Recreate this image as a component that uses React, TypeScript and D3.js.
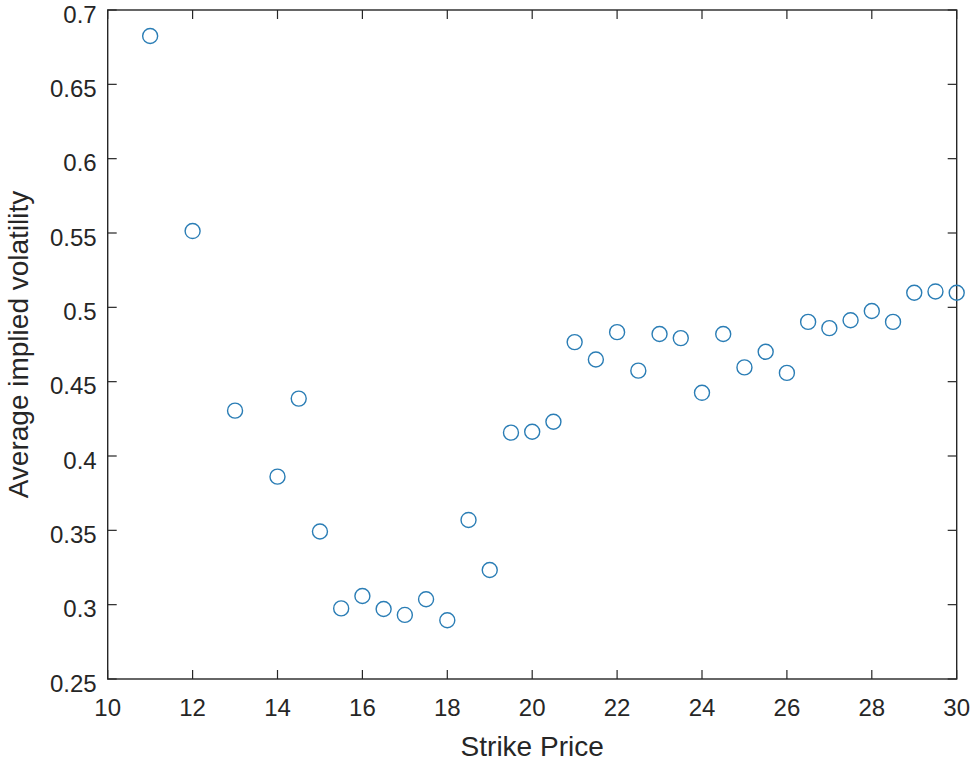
import React, { useEffect, useRef } from 'react';
import * as d3 from 'd3';

const strikes = [11, 12, 13, 14, 14.5, 15, 15.5, 16, 16.5, 17, 17.5, 18, 18.5, 19, 19.5, 20, 20.5, 21, 21.5, 22, 22.5, 23, 23.5, 24, 24.5, 25, 25.5, 26, 26.5, 27, 27.5, 28, 28.5, 29, 29.5, 30];
const volatility = [0.6825, 0.5513, 0.4305, 0.3861, 0.4386, 0.3492, 0.2975, 0.3058, 0.2971, 0.2931, 0.3036, 0.2895, 0.357, 0.3233, 0.4157, 0.4163, 0.423, 0.4766, 0.4649, 0.4833, 0.4574, 0.4821, 0.4793, 0.4425, 0.4821, 0.4596, 0.4701, 0.4559, 0.4902, 0.486, 0.4913, 0.4975, 0.4902, 0.5098, 0.5107, 0.5098];
const xTicks = [10, 12, 14, 16, 18, 20, 22, 24, 26, 28, 30];
const yTicks = [0.25, 0.3, 0.35, 0.4, 0.45, 0.5, 0.55, 0.6, 0.65, 0.7];

const W = 972;
const H = 766;
const margin = { top: 10, right: 15.3, bottom: 87, left: 107.7 };
const ink = '#262626';

const App: React.FC = () => {
  const svgRef = useRef<SVGSVGElement>(null);

  useEffect(() => {
    const svg = d3.select(svgRef.current);
    svg.selectAll('*').remove();

    const iw = W - margin.left - margin.right;
    const ih = H - margin.top - margin.bottom;

    const x = d3.scaleLinear().domain([10, 30]).range([0, iw]);
    const y = d3.scaleLinear().domain([0.25, 0.7]).range([ih, 0]);

    const g = svg.append('g').attr('transform', `translate(${margin.left},${margin.top})`);

    const tickLen = 9;
    const font = '"Liberation Sans", Arial, Helvetica, sans-serif';

    // ticks inward on all four sides
    const tg = g.append('g').attr('stroke', ink).attr('stroke-width', 1.2);
    xTicks.forEach(t => {
      tg.append('line').attr('x1', x(t)).attr('x2', x(t)).attr('y1', ih).attr('y2', ih - tickLen);
      tg.append('line').attr('x1', x(t)).attr('x2', x(t)).attr('y1', 0).attr('y2', tickLen);
    });
    yTicks.forEach(t => {
      tg.append('line').attr('x1', 0).attr('x2', tickLen).attr('y1', y(t)).attr('y2', y(t));
      tg.append('line').attr('x1', iw).attr('x2', iw - tickLen).attr('y1', y(t)).attr('y2', y(t));
    });

    g.append('rect')
      .attr('x', 0).attr('y', 0).attr('width', iw).attr('height', ih)
      .attr('fill', 'none').attr('stroke', ink).attr('stroke-width', 1.4);

    g.selectAll('.xt')
      .data(xTicks)
      .enter().append('text')
      .attr('x', d => x(d))
      .attr('y', ih + 37)
      .attr('text-anchor', 'middle')
      .attr('font-family', font)
      .attr('font-size', 24)
      .attr('fill', ink)
      .text(d => String(d));

    g.selectAll('.yt')
      .data(yTicks)
      .enter().append('text')
      .attr('x', -11)
      .attr('y', d => y(d) + 12.5)
      .attr('text-anchor', 'end')
      .attr('font-family', font)
      .attr('font-size', 24)
      .attr('fill', ink)
      .text(d => String(d));

    g.append('text')
      .attr('x', iw / 2)
      .attr('y', ih + 77)
      .attr('text-anchor', 'middle')
      .attr('font-family', font)
      .attr('font-size', 28)
      .attr('fill', ink)
      .text('Strike Price');

    g.append('text')
      .attr('transform', 'rotate(-90)')
      .attr('x', -ih / 2)
      .attr('y', -80)
      .attr('text-anchor', 'middle')
      .attr('font-family', font)
      .attr('font-size', 28)
      .attr('fill', ink)
      .text('Average implied volatility');

    g.selectAll('.pt')
      .data(strikes.map((s, i) => ({ s, v: volatility[i] })))
      .enter().append('circle')
      .attr('cx', d => x(d.s))
      .attr('cy', d => y(d.v))
      .attr('r', 7.5)
      .attr('fill', 'none')
      .attr('stroke', '#2a7db5')
      .attr('stroke-width', 1.4);
  }, []);

  return (
    <div style={{ position: 'absolute', left: 0, top: 0, width: W, height: H, background: '#fff' }}>
      <svg ref={svgRef} width={W} height={H}></svg>
    </div>
  );
};

export default App;
